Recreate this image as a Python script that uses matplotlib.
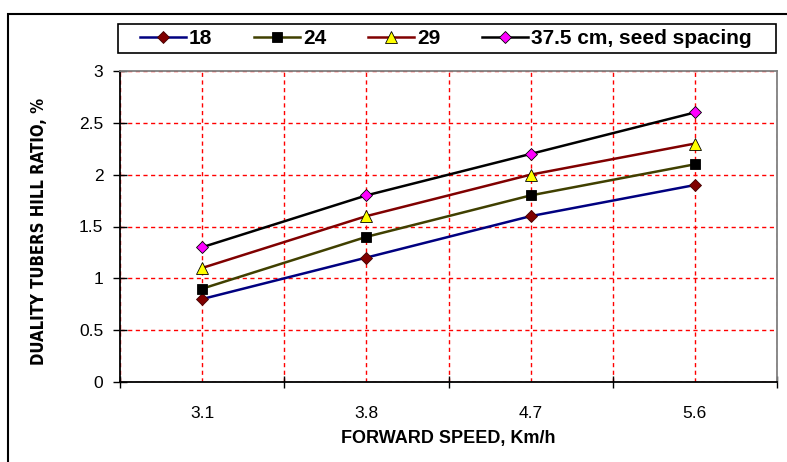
import matplotlib
matplotlib.use("Agg")
import matplotlib.pyplot as plt
from matplotlib.patches import Rectangle

plt.rcParams['font.family'] = ['Liberation Sans', 'DejaVu Sans']

speeds = ["3.1", "3.8", "4.7", "5.6"]
series_names = ["18", "24", "29", "37.5 cm, seed spacing"]
s18 = [0.8, 1.2, 1.6, 1.9]
s24 = [0.9, 1.4, 1.8, 2.1]
s29 = [1.1, 1.6, 2.0, 2.3]
s375 = [1.3, 1.8, 2.2, 2.6]
y_ticks = [0, 0.5, 1, 1.5, 2, 2.5, 3]
y_tick_labels = ["0", "0.5", "1", "1.5", "2", "2.5", "3"]

W, H = 787, 462
fig = plt.figure(figsize=(W / 100, H / 100), dpi=100)
ax = fig.add_axes([120 / W, 1 - 382 / H, (777 - 120) / W, (382 - 71) / H])

x = list(range(len(speeds)))
styles = [
    dict(color="#000080", marker="D", mfc="#800000", mec="#400000", ms=6),
    dict(color="#404000", marker="s", mfc="#000000", mec="#000000", ms=7),
    dict(color="#800000", marker="^", mfc="#ffff00", mec="#000000", ms=8),
    dict(color="#000000", marker="D", mfc="#ff00ff", mec="#000000", ms=6),
]
for vals, name, st in zip([s18, s24, s29, s375], series_names, styles):
    ax.plot(x, vals, color=st["color"], lw=1.8, marker=st["marker"],
            markerfacecolor=st["mfc"], markeredgecolor=st["mec"],
            markeredgewidth=0.6, markersize=st["ms"], label=name, zorder=3)

ax.set_xlim(-0.5, len(speeds) - 0.5)
ax.set_ylim(0, 3)

# Category boundaries as major ticks, category centres carry labels
ax.set_xticks([i - 0.5 for i in range(len(speeds) + 1)])
ax.set_xticklabels([])
ax.set_xticks(x, minor=True)
ax.set_xticklabels(speeds, minor=True)
ax.tick_params(axis="x", which="major", direction="inout", length=9, width=1, color="black")
ax.tick_params(axis="x", which="minor", length=0, pad=17, labelsize=12.5)

ax.set_yticks(y_ticks)
ax.set_yticklabels(y_tick_labels)
ax.tick_params(axis="y", direction="inout", length=10, width=1, labelsize=12.5, pad=7)

ax.set_axisbelow(True)
grid_kw = dict(color="#ff0000", linestyle=(0, (3, 2.5)), linewidth=1)
ax.grid(True, axis="y", which="major", **grid_kw)
ax.grid(True, axis="x", which="both", **grid_kw)

for side in ["left", "bottom"]:
    ax.spines[side].set_color("black")
    ax.spines[side].set_linewidth(1.3)
for side in ["top", "right"]:
    ax.spines[side].set_color("#808080")
    ax.spines[side].set_linewidth(1.3)

ax.set_xlabel("FORWARD SPEED, Km/h", fontsize=13, fontweight="bold", labelpad=7)
ax.set_ylabel("DUALITY TUBERS HILL RATIO, %", fontsize=12, fontweight="bold",
              family=["DejaVu Sans", "Liberation Sans"], fontstretch="condensed")
ax.yaxis.set_label_coords(48 / W, 0.5, transform=fig.transFigure)

# Legend box and entries
fig.patches.append(Rectangle((118 / W, 1 - 53 / H), (776 - 118) / W, 29 / H,
                             transform=fig.transFigure, fill=False,
                             edgecolor="black", linewidth=1.2, zorder=5))
leg = fig.legend(loc="center left", ncol=4,
                 bbox_to_anchor=(140 / W, 1 - 38.5 / H),
                 frameon=False, fontsize=15, handlelength=2.2,
                 borderaxespad=0, borderpad=0, handletextpad=0.15,
                 columnspacing=2.0)
for t in leg.get_texts():
    t.set_fontweight("bold")

# Outer chart border
fig.patches.append(Rectangle((8 / W, -0.05), 1.2, 0.05 + 1 - 14 / H,
                             transform=fig.transFigure, fill=False,
                             edgecolor="black", linewidth=1.5))

fig.savefig("out.png", dpi=100)
